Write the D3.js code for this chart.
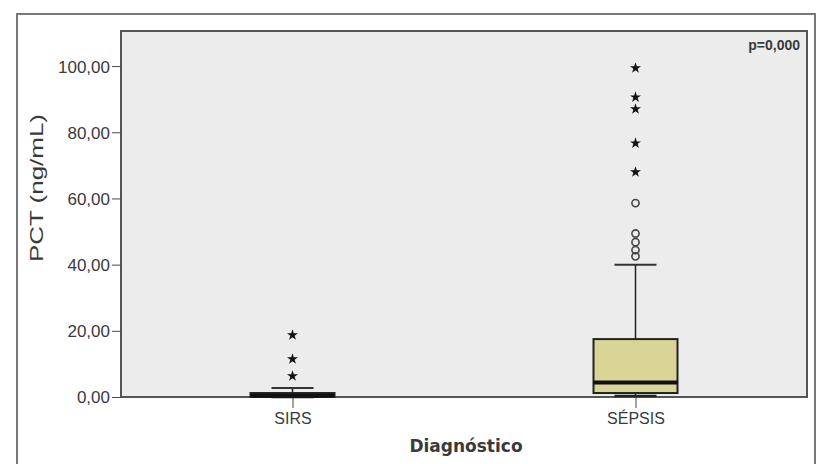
<!DOCTYPE html>
<meta charset="utf-8">
<style>
body { margin: 0; background: #fff; }
text { font-family: "Liberation Sans", Arial, sans-serif; fill: #3a3a3a; }
.axis path, .axis line { stroke: #4a4a4a; }
</style>
<script src="https://d3js.org/d3.v7.min.js"></script>
<body>
<script>
// categories and box statistics
const categories = ['SIRS', 'SÉPSIS'];
const q1 = [0.1, 1.2];
const median = [0.4, 4.4];
const q3 = [1.2, 17.5];
const whiskerLow = [0, 0.3];
const whiskerHigh = [2.7, 40];
// outliers (circles) and extremes (stars)
const outliers = [[], [58.6, 49.4, 46.8, 44.4, 42.5]];
const extremes = [[18.7, 11.5, 6.3], [99.4, 90.6, 87, 76.7, 68]];
const yTicks = [0, 20, 40, 60, 80, 100];

const W = 818, H = 464;
const plot = { left: 121, top: 31, right: 807, bottom: 397 };

const svg = d3.select('body').append('svg')
    .attr('width', W)
    .attr('height', H);

// outer frame
svg.append('rect')
    .attr('x', 17).attr('y', 14)
    .attr('width', 798).attr('height', 470)
    .attr('fill', '#fff')
    .attr('stroke', '#777')
    .attr('stroke-width', 2);

svg.append('rect')
    .attr('x', plot.left).attr('y', plot.top)
    .attr('width', plot.right - plot.left)
    .attr('height', plot.bottom - plot.top)
    .attr('fill', '#ececec')
    .attr('stroke', '#555')
    .attr('stroke-width', 2);

const x = d3.scalePoint()
  .domain(categories)
  .range([plot.left, plot.right])
  .padding(0.5);

const y = d3.scaleLinear()
  .domain([0, 110.6])
  .range([plot.bottom, plot.top]);

const fmt = d => d3.format('.2f')(d).replace('.', ',');

svg.append('g')
    .attr('class', 'axis')
    .attr('transform', `translate(${plot.left},0)`)
  .call(d3.axisLeft(y).tickValues(yTicks).tickFormat(fmt).tickSize(9).tickPadding(2).tickSizeOuter(0))
  .call(g => g.select('.domain').remove())
  .selectAll('text')
    .style('font-size', '17px')
    .attr('dy', '0.35em');

svg.append('g')
    .attr('class', 'axis')
    .attr('transform', `translate(0,${plot.bottom})`)
  .call(d3.axisBottom(x).tickSize(11).tickPadding(5).tickSizeOuter(0))
  .call(g => g.select('.domain').remove())
  .selectAll('text')
    .style('font-size', '16px');

// boxes
const boxW = 84, capW = 42;
const data = categories.map((c, i) => ({
  c, q1: q1[i], med: median[i], q3: q3[i], lo: whiskerLow[i], hi: whiskerHigh[i]
}));

const box = svg.append('g').selectAll('g')
  .data(data)
  .join('g')
    .attr('transform', d => `translate(${x(d.c)},0)`);

box.append('line')
    .attr('y1', d => y(d.q3)).attr('y2', d => y(d.hi))
    .attr('stroke', '#222').attr('stroke-width', 1.5);
box.append('line')
    .attr('y1', d => y(d.q1)).attr('y2', d => y(d.lo))
    .attr('stroke', '#222').attr('stroke-width', 1.5);
box.append('line')
    .attr('x1', -capW / 2).attr('x2', capW / 2)
    .attr('y1', d => y(d.hi)).attr('y2', d => y(d.hi))
    .attr('stroke', '#333').attr('stroke-width', 2);
box.append('line')
    .attr('x1', -capW / 2).attr('x2', capW / 2)
    .attr('y1', d => y(d.lo)).attr('y2', d => y(d.lo))
    .attr('stroke', '#222').attr('stroke-width', 2.5);
box.append('rect')
    .attr('x', -boxW / 2).attr('width', boxW)
    .attr('y', d => y(d.q3))
    .attr('height', d => y(d.q1) - y(d.q3))
    .attr('fill', '#d8d596')
    .attr('stroke', '#222').attr('stroke-width', 2);
box.append('line')
    .attr('x1', -boxW / 2).attr('x2', boxW / 2)
    .attr('y1', d => y(d.med)).attr('y2', d => y(d.med))
    .attr('stroke', '#111').attr('stroke-width', 4);

// outliers
const circ = [], stars = [];
categories.forEach((c, i) => {
  outliers[i].forEach(v => circ.push({ c, v }));
  extremes[i].forEach(v => stars.push({ c, v }));
});

svg.append('g').selectAll('circle')
  .data(circ)
  .join('circle')
    .attr('cx', d => x(d.c))
    .attr('cy', d => y(d.v))
    .attr('r', 3.6)
    .attr('fill', 'none')
    .attr('stroke', '#444')
    .attr('stroke-width', 1.6);

svg.append('g').selectAll('path')
  .data(stars)
  .join('path')
    .attr('transform', d => `translate(${x(d.c)},${y(d.v)})`)
    .attr('d', d3.symbol(d3.symbolStar, 38))
    .attr('fill', '#111');

// titles
svg.append('text')
    .attr('transform', 'translate(43,188) rotate(-90)')
    .attr('text-anchor', 'middle')
    .attr('textLength', 148)
    .attr('lengthAdjust', 'spacingAndGlyphs')
    .style('font-size', '19px')
    .text('PCT (ng/mL)');

svg.append('text')
    .attr('x', 466).attr('y', 452)
    .attr('text-anchor', 'middle')
    .style('font-family', '"DejaVu Sans", sans-serif')
    .style('font-weight', 'bold')
    .style('font-size', '17px')
    .text('Diagnóstico');

svg.append('text')
    .attr('x', 800).attr('y', 50)
    .attr('text-anchor', 'end')
    .style('font-size', '14px')
    .style('font-weight', 'bold')
    .text('p=0,000');
</script>
</body>
</html>
